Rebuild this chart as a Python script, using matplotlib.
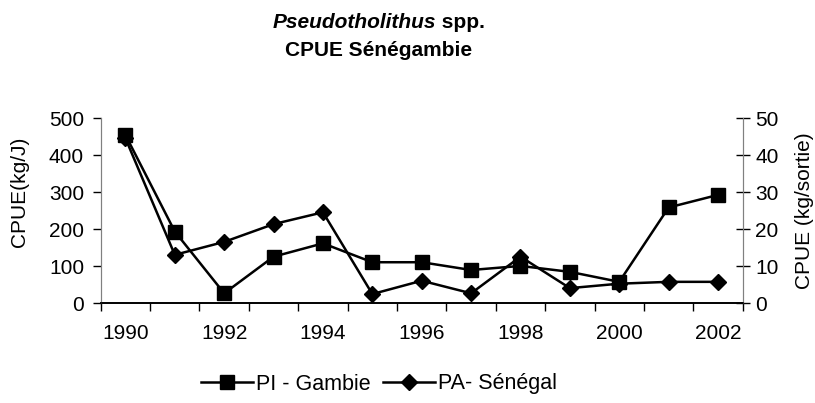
import matplotlib
matplotlib.use("Agg")
import matplotlib.pyplot as plt
from matplotlib.ticker import FixedLocator, NullFormatter

plt.rcParams["font.family"] = ["Liberation Sans", "DejaVu Sans"]

years = [1990, 1991, 1992, 1993, 1994, 1995, 1996, 1997, 1998, 1999, 2000, 2001, 2002]
pi_gambie = [455, 194, 27, 126, 162, 111, 111, 90, 101, 85, 58, 259, 293]        # kg/J
pa_senegal = [44.6, 13.1, 16.6, 21.4, 24.6, 2.5, 6.1, 2.7, 12.6, 4.1, 5.3, 5.8, 5.8]  # kg/sortie
year_labels = [str(y) for y in years[::2]]

FS = 15

fig = plt.figure(figsize=(8.15, 4.03), dpi=100)
ax = fig.add_axes([0.1236, 0.2474, 0.7877, 0.459])
ax2 = ax.twinx()

x = list(range(len(years)))
l1, = ax.plot(x, pi_gambie, color="black", lw=1.8, marker="s", ms=10.5,
              markerfacecolor="black", markeredgecolor="black", label="PI - Gambie", zorder=3)
l2, = ax2.plot(x, pa_senegal, color="black", lw=1.8, marker="D", ms=8,
               markerfacecolor="black", markeredgecolor="black", label="PA- Sénégal", zorder=3)

ax.set_xlim(-0.5, len(years) - 0.5)
ax.set_ylim(0, 500)
ax2.set_ylim(0, 50)
ax.set_yticks(range(0, 501, 100))
ax2.set_yticks(range(0, 51, 10))

# category boundaries as tick marks, labels on every second category
ax.xaxis.set_major_locator(FixedLocator([i - 0.5 for i in range(len(years) + 1)]))
ax.xaxis.set_major_formatter(NullFormatter())
ax.xaxis.set_minor_locator(FixedLocator(x[::2]))
ax.set_xticklabels(year_labels, minor=True)
ax.tick_params(axis="x", which="major", direction="out", length=6, width=1, color="black")
ax.tick_params(axis="x", which="minor", length=0, pad=15, labelsize=FS)
ax.tick_params(axis="y", direction="out", length=6, width=1, color="black", labelsize=FS, pad=6)
ax2.tick_params(axis="y", direction="inout", length=10, width=1, color="black", labelsize=FS, pad=4)

for a in (ax, ax2):
    a.spines["top"].set_visible(False)
    a.spines["left"].set_color("#808080")
    a.spines["right"].set_color("#808080")
    a.spines["bottom"].set_color("black")
    a.spines["bottom"].set_linewidth(1.2)

fig.text(20 / 815, 1 - 192 / 403, "CPUE(kg/J)", rotation=90, ha="center", va="center", fontsize=FS)
fig.text(805 / 815, 1 - 211 / 403, "CPUE (kg/sortie)", rotation=90, ha="center", va="center", fontsize=FS)

# two-line title: genus in bold italic, rest in bold
t_genus = fig.text(483 / 815, 1 - 22 / 403, "Pseudotholithus", ha="left", va="center",
                   fontsize=FS, fontweight="bold", fontstyle="italic")
t_spp = fig.text(483 / 815, 1 - 22 / 403, " spp.", ha="right", va="center",
                 fontsize=FS, fontweight="bold")
fig.canvas.draw()
r = fig.canvas.get_renderer()
w1 = t_genus.get_window_extent(r).width
w2 = t_spp.get_window_extent(r).width
cx = 379
start = cx - (w1 + w2) / 2
t_genus.set_x(start / 815)
t_spp.set_ha("left")
t_spp.set_x((start + w1) / 815)
fig.text(cx / 815, 1 - 51 / 403, "CPUE Sénégambie", ha="center", va="center",
         fontsize=FS, fontweight="bold")

fig.legend(handles=[l1, l2], loc="center", bbox_to_anchor=(379 / 815, 1 - 384 / 403),
           ncol=2, frameon=False, fontsize=15.5, handlelength=2.4, handletextpad=0.15,
           columnspacing=0.6)

fig.savefig("out.png", dpi=100)
